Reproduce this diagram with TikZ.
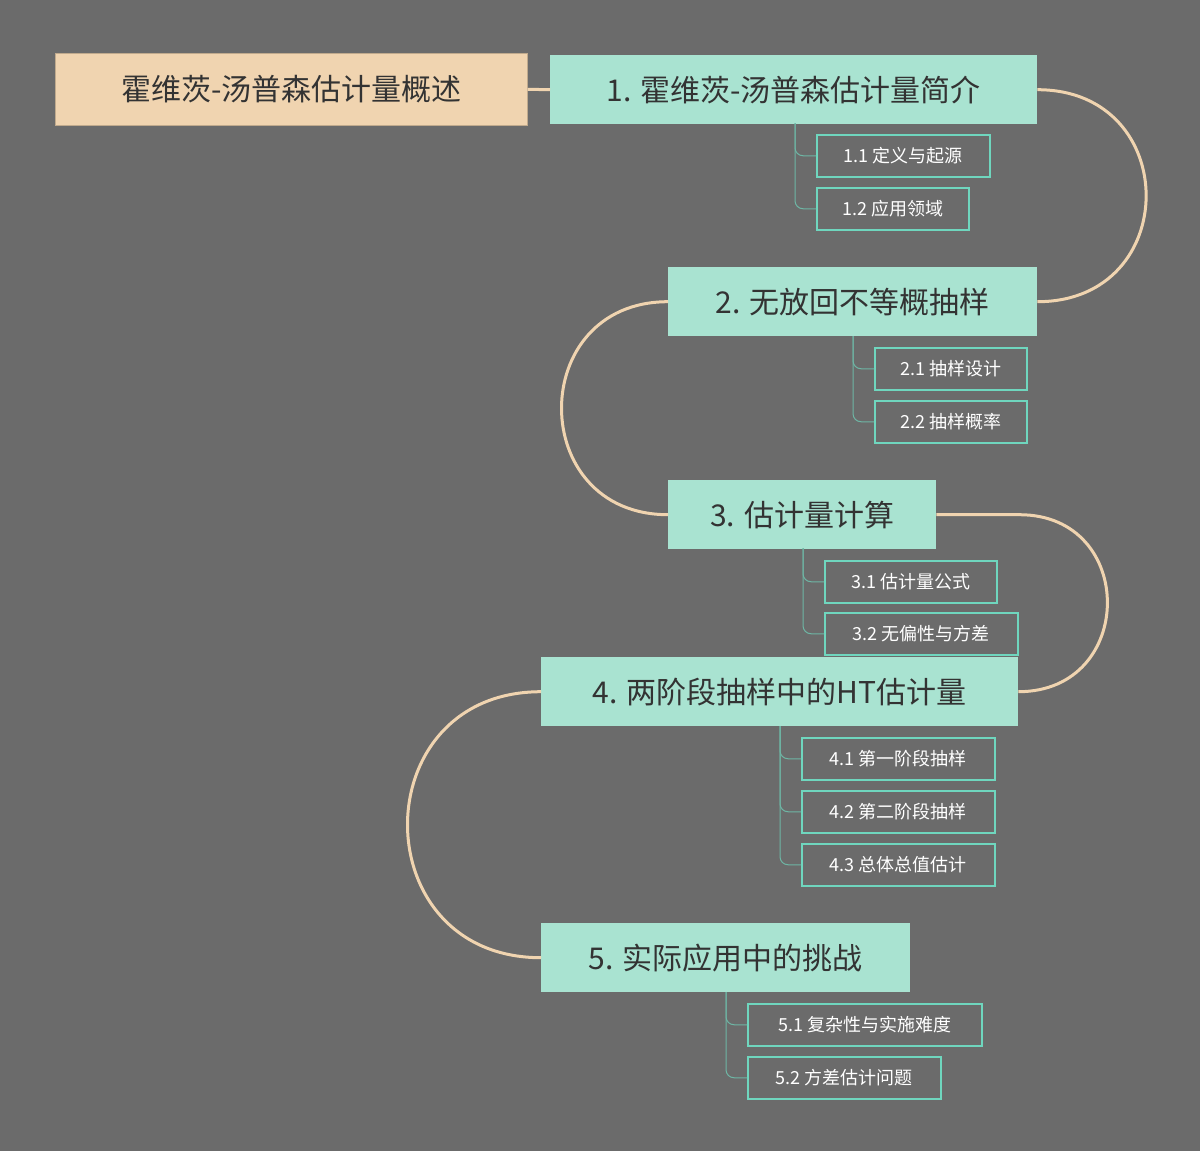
\documentclass[tikz,border=0pt]{standalone}
\usepackage{fontspec}
\setmainfont{Noto Sans CJK SC}
\definecolor{bg}{HTML}{6B6B6B}
\definecolor{rootc}{HTML}{F0D4B0}
\definecolor{mainc}{HTML}{A9E3D1}
\definecolor{subb}{HTML}{6FD6BE}
\definecolor{curvec}{HTML}{F0D4B0}
\definecolor{txt}{HTML}{333333}
\begin{document}
\begin{tikzpicture}[x=1pt,y=-1pt,
 rootbox/.style={fill=rootc,draw=rootc!80!black,line width=0.6pt,text=txt,font=\fontsize{30}{30}\selectfont,minimum height=72pt,inner sep=0pt,anchor=north west},
 mainbox/.style={fill=mainc,text=txt,font=\fontsize{30}{30}\selectfont,minimum height=69pt,inner sep=0pt,anchor=north west},
 subbox/.style={draw=subb,line width=1.5pt,fill=bg,text=white,font=\fontsize{18}{18}\selectfont,minimum height=42pt,inner sep=0pt,anchor=north west},
 curve/.style={draw=curvec,line width=3pt},
 tie/.style={draw=subb!70!bg,line width=1pt,rounded corners=8pt}]
\fill[bg] (0,0) rectangle (1200,1151);
\useasboundingbox (0,0) rectangle (1200,1151);
\node[rootbox,minimum width=472pt] (r) at (55,53) {霍维茨-汤普森估计量概述};
\node[mainbox,minimum width=487pt] (n1) at (550,55) {1. 霍维茨-汤普森估计量简介};
\node[mainbox,minimum width=369pt] (n2) at (668,267) {2. 无放回不等概抽样};
\node[mainbox,minimum width=268pt] (n3) at (668,480) {3. 估计量计算};
\node[mainbox,minimum width=477pt] (n4) at (541,657) {4. 两阶段抽样中的HT估计量};
\node[mainbox,minimum width=369pt] (n5) at (541,923) {5. 实际应用中的挑战};
\node[subbox,minimum width=173pt] (s11) at (816,134) {1.1 定义与起源};
\node[subbox,minimum width=152pt] (s12) at (816,187) {1.2 应用领域};
\node[subbox,minimum width=152pt] (s21) at (874,347) {2.1 抽样设计};
\node[subbox,minimum width=152pt] (s22) at (874,400) {2.2 抽样概率};
\node[subbox,minimum width=172pt] (s31) at (824,560) {3.1 估计量公式};
\node[subbox,minimum width=193pt] (s32) at (824,612) {3.2 无偏性与方差};
\node[subbox,minimum width=193pt] (s41) at (801,737) {4.1 第一阶段抽样};
\node[subbox,minimum width=193pt] (s42) at (801,790) {4.2 第二阶段抽样};
\node[subbox,minimum width=193pt] (s43) at (801,843) {4.3 总体总值估计};
\node[subbox,minimum width=234pt] (s51) at (747,1003) {5.1 复杂性与实施难度};
\node[subbox,minimum width=193pt] (s52) at (747,1056) {5.2 方差估计问题};
\draw[curve] (r.east) -- (n1.west);
\draw[curve] (n1.east) .. controls +(145,0) and +(145,0) .. (n2.east);
\draw[curve] (n2.west) .. controls +(-142,0) and +(-142,0) .. (n3.west);
\draw[curve] (n3.east) -- ++(83,0) .. controls +(118,0) and +(118,0) .. (n4.east);
\draw[curve] (n4.west) .. controls +(-178,0) and +(-178,0) .. (n5.west);
\coordinate (b1) at (795,123);
\coordinate (b2) at (853,336);
\coordinate (b3) at (803,548);
\coordinate (b4) at (780,726);
\coordinate (b5) at (726,992);
\draw[tie] (b1) |- (s11.west); \draw[tie] (b1) |- (s12.west);
\draw[tie] (b2) |- (s21.west); \draw[tie] (b2) |- (s22.west);
\draw[tie] (b3) |- (s31.west); \draw[tie] (b3) |- (s32.west);
\draw[tie] (b4) |- (s41.west); \draw[tie] (b4) |- (s42.west); \draw[tie] (b4) |- (s43.west);
\draw[tie] (b5) |- (s51.west); \draw[tie] (b5) |- (s52.west);
\end{tikzpicture}
\end{document}
